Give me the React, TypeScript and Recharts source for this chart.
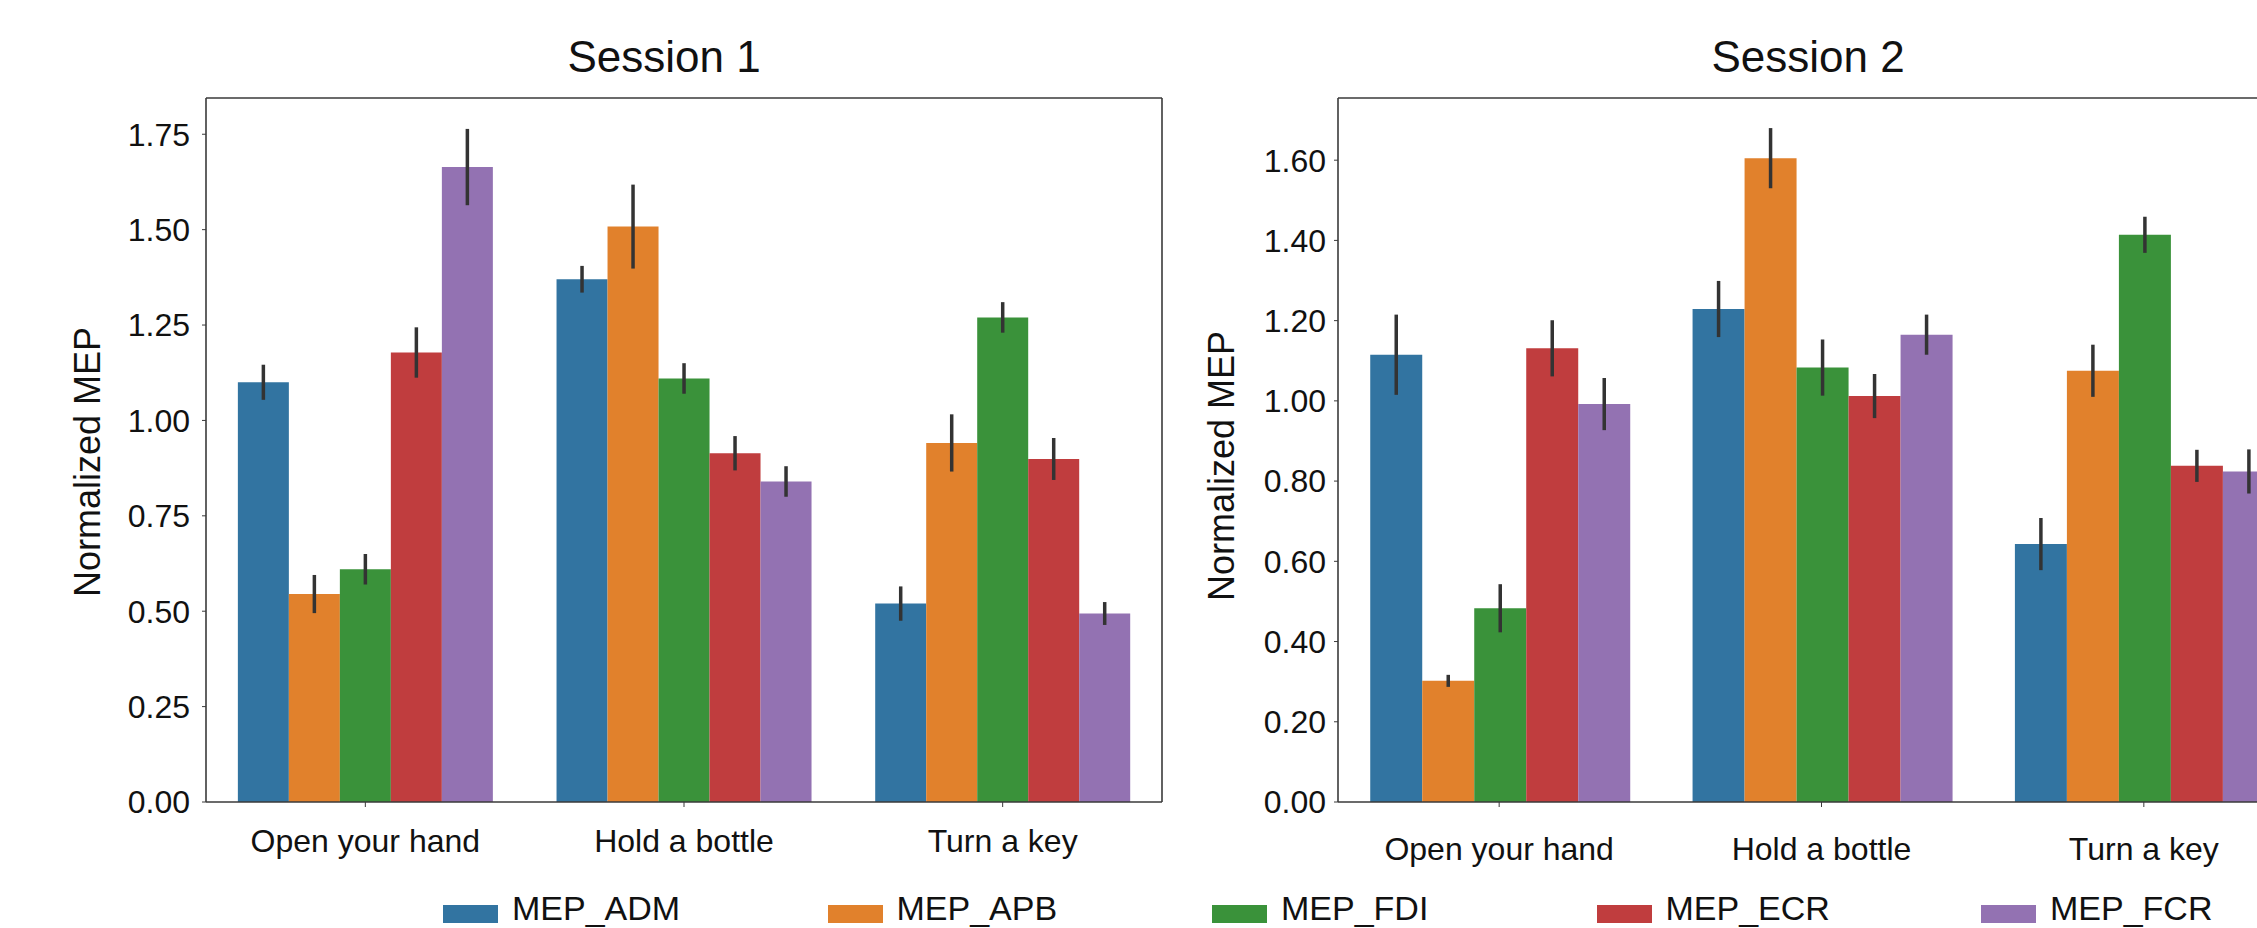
import React from 'react';
import { BarChart, Bar, XAxis, YAxis, ErrorBar } from 'recharts';

const FONT = '"Liberation Sans", Arial, Helvetica, sans-serif';

const tasks = ['Open your hand', 'Hold a bottle', 'Turn a key'];
const muscles = ['MEP_ADM', 'MEP_APB', 'MEP_FDI', 'MEP_ECR', 'MEP_FCR'];
const colors = ['#3274a1', '#e1812c', '#3a923a', '#c03d3e', '#9372b2'];

// Session 1 means / error half-widths, order = tasks
const s1ADM = [1.10, 1.37, 0.52];
const s1APB = [0.545, 1.508, 0.941];
const s1FDI = [0.61, 1.11, 1.27];
const s1ECR = [1.178, 0.914, 0.899];
const s1FCR = [1.664, 0.84, 0.494];
const s1ADMerr = [0.046, 0.035, 0.045];
const s1APBerr = [0.05, 0.11, 0.075];
const s1FDIerr = [0.04, 0.04, 0.04];
const s1ECRerr = [0.066, 0.045, 0.055];
const s1FCRerr = [0.1, 0.04, 0.03];

// Session 2
const s2ADM = [1.115, 1.229, 0.643];
const s2APB = [0.302, 1.605, 1.075];
const s2FDI = [0.483, 1.083, 1.414];
const s2ECR = [1.131, 1.012, 0.838];
const s2FCR = [0.992, 1.165, 0.824];
const s2ADMerr = [0.1, 0.07, 0.065];
const s2APBerr = [0.015, 0.075, 0.065];
const s2FDIerr = [0.06, 0.07, 0.045];
const s2ECRerr = [0.07, 0.055, 0.04];
const s2FCRerr = [0.065, 0.05, 0.055];

const s1Ticks = [0, 0.25, 0.5, 0.75, 1.0, 1.25, 1.5, 1.75];
const s2Ticks = [0, 0.2, 0.4, 0.6, 0.8, 1.0, 1.2, 1.4, 1.6];

function buildRows(means: number[][], errs: number[][]) {
  return tasks.map((task, i) => {
    const row: Record<string, any> = { task };
    muscles.forEach((m, j) => {
      row[m] = means[j][i];
      row[m + '_err'] = errs[j][i];
    });
    return row;
  });
}

const s1Rows = buildRows(
  [s1ADM, s1APB, s1FDI, s1ECR, s1FCR],
  [s1ADMerr, s1APBerr, s1FDIerr, s1ECRerr, s1FCRerr]
);
const s2Rows = buildRows(
  [s2ADM, s2APB, s2FDI, s2ECR, s2FCR],
  [s2ADMerr, s2APBerr, s2FDIerr, s2ECRerr, s2FCRerr]
);

const frame = { stroke: '#3a3a3a', strokeWidth: 1.6 };
const tickStyle = { fontSize: 32, fill: '#111', fontFamily: FONT };

function SessionChart({ rows, domain, ticks, width, yWidth, marginRight, yTickMargin, xTickMargin }: any) {
  return (
    <BarChart
      width={width}
      height={928}
      data={rows}
      margin={{ top: 97, right: marginRight, bottom: 0, left: 0 }}
      barCategoryGap="10%"
      barGap={0}
    >
      <XAxis
        dataKey="task"
        height={126}
        axisLine={frame}
        tickLine={{ stroke: '#3a3a3a' }}
        tickSize={5}
        tickMargin={xTickMargin}
        tick={tickStyle}
        interval={0}
      />
      {/* top and right edges of the box */}
      <XAxis xAxisId="top" dataKey="task" orientation="top" height={1} tick={false} tickLine={false} axisLine={frame} />
      <YAxis
        domain={domain}
        ticks={ticks}
        width={yWidth}
        allowDataOverflow
        axisLine={frame}
        tickLine={{ stroke: '#3a3a3a' }}
        tickSize={4}
        tickMargin={yTickMargin}
        tick={tickStyle}
        tickFormatter={(v: number) => v.toFixed(2)}
      />
      <YAxis yAxisId="r" orientation="right" domain={domain} width={1} tick={false} tickLine={false} axisLine={frame} />
      {muscles.map((m, i) => (
        <Bar key={m} dataKey={m} fill={colors[i]} isAnimationActive={false}>
          <ErrorBar dataKey={m + '_err'} width={0} strokeWidth={3.5} stroke="#333" direction="y" />
        </Bar>
      ))}
    </BarChart>
  );
}

function Title({ text, cx }: { text: string; cx: number }) {
  return (
    <div style={{ position: 'absolute', left: cx - 200, top: 35, width: 400, textAlign: 'center', fontSize: 44, lineHeight: '44px', color: '#111' }}>
      {text}
    </div>
  );
}

function YLabel({ cx, cy }: { cx: number; cy: number }) {
  return (
    <div style={{ position: 'absolute', left: cx - 200, top: cy - 20, width: 400, height: 40, lineHeight: '40px', textAlign: 'center', fontSize: 36, color: '#111', transform: 'rotate(-90deg)' }}>
      Normalized MEP
    </div>
  );
}

export default function App() {
  return (
    <div style={{ position: 'absolute', left: 0, top: 0, width: 2257, height: 928, overflow: 'hidden', background: '#fff', fontFamily: FONT }}>
      <div style={{ position: 'absolute', left: 0, top: 0 }}>
        <SessionChart rows={s1Rows} domain={[0, 1.845]} ticks={s1Ticks} width={1300} yWidth={206} marginRight={137} yTickMargin={12} xTickMargin={22} />
      </div>
      <div style={{ position: 'absolute', left: 1150, top: 0 }}>
        <SessionChart rows={s2Rows} domain={[0, 1.755]} ticks={s2Ticks} width={1156} yWidth={188} marginRight={0} yTickMargin={8} xTickMargin={30} />
      </div>
      <Title text="Session 1" cx={664} />
      <Title text="Session 2" cx={1808} />
      <YLabel cx={88} cy={462} />
      <YLabel cx={1222} cy={466} />
      <div style={{ position: 'absolute', left: 443, top: 891, display: 'flex' }}>
        {muscles.map((m, i) => (
          <div key={m} style={{ width: 384.5, display: 'flex', alignItems: 'flex-start' }}>
            <div style={{ width: 55, height: 18, marginTop: 14, background: colors[i] }} />
            <div style={{ marginLeft: 14, fontSize: 34, lineHeight: '34px', color: '#111' }}>{m}</div>
          </div>
        ))}
      </div>
    </div>
  );
}
